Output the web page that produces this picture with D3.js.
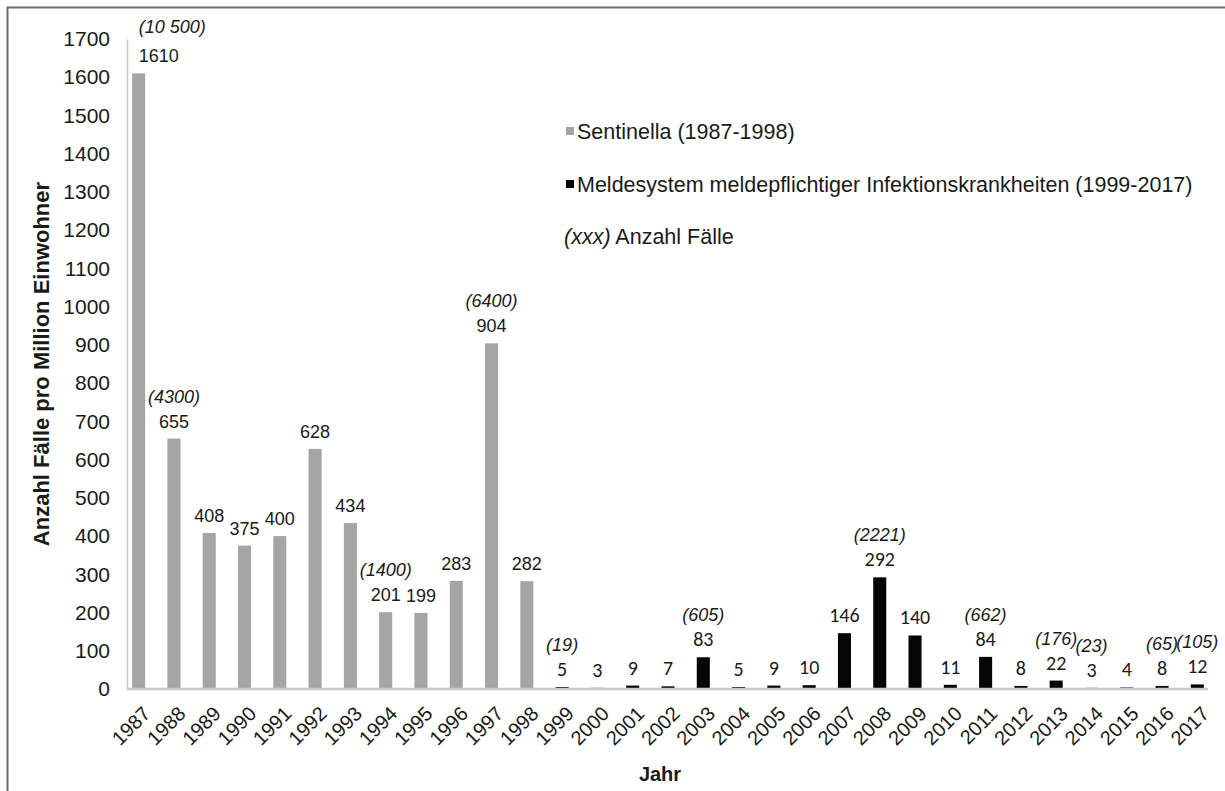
<!DOCTYPE html>
<html>
<head>
<meta charset="utf-8">
<script src="https://cdn.jsdelivr.net/npm/d3@7"></script>
<style>
  body { margin: 0; background: #fff; }
  svg text { font-family: "Liberation Sans", Arial, sans-serif; fill: #1a1a1a; }
</style>
</head>
<body>
<svg id="chart" width="1225" height="791"></svg>
<script>
const years = ['1987', '1988', '1989', '1990', '1991', '1992', '1993', '1994', '1995', '1996',
  '1997', '1998', '1999', '2000', '2001', '2002', '2003', '2004', '2005', '2006', '2007',
  '2008', '2009', '2010', '2011', '2012', '2013', '2014', '2015', '2016', '2017']

const sentinellaYears = ['1987', '1988', '1989', '1990', '1991', '1992', '1993', '1994', '1995', '1996', '1997', '1998']
const sentinellaValues = [1610, 655, 408, 375, 400, 628, 434, 201, 199, 283, 904, 282]

const meldeYears = ['1999', '2000', '2001', '2002', '2003', '2004', '2005', '2006', '2007', '2008',
  '2009', '2010', '2011', '2012', '2013', '2014', '2015', '2016', '2017']
const meldeValues = [5, 3, 9, 7, 83, 5, 9, 10, 146, 292, 140, 11, 84, 8, 22, 3, 4, 8, 12]

const caseYears = ['1987', '1988', '1994', '1997', '1999', '2003', '2008', '2011', '2013', '2014', '2016', '2017']
const caseLabels = ['(10 500)', '(4300)', '(1400)', '(6400)', '(19)', '(605)', '(2221)', '(662)', '(176)', '(23)', '(65)', '(105)']

const yTicks = [0, 100, 200, 300, 400, 500, 600, 700, 800, 900, 1000, 1100, 1200, 1300, 1400, 1500, 1600, 1700]

const legendItems = ['Sentinella (1987-1998)', 'Meldesystem meldepflichtiger Infektionskrankheiten (1999-2017)']

let rows = sentinellaYears.map((yr, i) => ({ year: yr, value: sentinellaValues[i], series: 0 }))
  .concat(meldeYears.map((yr, i) => ({ year: yr, value: meldeValues[i], series: 1 })))
let valueByYear = new Map(rows.map(d => [d.year, d.value]))

const colors = ['#a5a5a5', '#050505']
const labelFonts = ['"Liberation Sans", Arial, sans-serif', 'Carlito, Lato, sans-serif']
const labelSizes = ['18px', '20px']

let svg = d3.select('#chart')

// frame
svg.append('path')
  .attr('d', 'M7.5,791 V7.5 H1225')
  .attr('fill', 'none')
  .attr('stroke', '#6e6e6e')
  .attr('stroke-width', 2)

let x = d3.scaleBand()
  .domain(years)
  .range([121, 1215])
  .paddingInner(0.63)
  .paddingOuter(0.315)

let y = d3.scaleLinear().domain([0, 1700]).range([689, 39])

let cx = yr => x(yr) + x.bandwidth() / 2
let labelY = v => y(v) - 11

// y axis
let yAxis = svg.append('g')
  .attr('transform', 'translate(127,0)')
  .call(d3.axisLeft(y).tickValues(yTicks).tickFormat(d3.format('d')).tickSize(0).tickSizeOuter(0).tickPadding(17))
yAxis.select('.domain').attr('stroke', '#c8c8c8').attr('stroke-width', 1.5)
yAxis.selectAll('text')
  .style('font-family', '"Liberation Sans", Arial, sans-serif')
  .style('font-size', '21px')
  .attr('fill', '#1a1a1a')

// x axis labels
let xAxis = svg.append('g')
  .attr('transform', 'translate(0,689)')
  .call(d3.axisBottom(x).tickSize(0))
xAxis.select('.domain').remove()
xAxis.selectAll('text')
  .style('font-family', '"Liberation Sans", Arial, sans-serif')
  .style('font-size', '20px')
  .attr('fill', '#1a1a1a')
  .attr('text-anchor', 'end')
  .attr('x', 0).attr('y', 0).attr('dy', null)
  .attr('transform', 'translate(13,26) rotate(-45)')

// bars
svg.append('g')
  .selectAll('rect')
  .data(rows)
  .join('rect')
  .attr('x', d => x(d.year))
  .attr('width', x.bandwidth())
  .attr('y', d => y(d.value))
  .attr('height', d => y(0) - y(d.value))
  .attr('fill', d => colors[d.series])

// baseline
svg.append('line')
  .attr('x1', 127).attr('x2', x(years[years.length - 1]) + x.bandwidth() + 4)
  .attr('y1', y(0)).attr('y2', y(0))
  .attr('stroke', '#c8c8c8')
  .attr('stroke-width', 2.5)

// value labels
svg.append('g')
  .selectAll('text')
  .data(rows)
  .join('text')
  .attr('x', d => cx(d.year))
  .attr('y', d => labelY(d.value))
  .attr('text-anchor', d => d.year === years[0] ? 'start' : 'middle')
  .style('font-family', d => labelFonts[d.series])
  .style('font-size', d => labelSizes[d.series])
  .text(d => d.value)

// case count labels (the first one sits a bit higher, as in the source)
svg.append('g')
  .selectAll('text')
  .data(caseYears.map((yr, i) => ({ year: yr, label: caseLabels[i] })))
  .join('text')
  .attr('x', d => cx(d.year))
  .attr('y', d => labelY(valueByYear.get(d.year)) - (d.year === years[0] ? 29 : 25))
  .attr('text-anchor', d => d.year === years[0] ? 'start' : 'middle')
  .style('font-size', '18px')
  .style('font-style', 'italic')
  .attr('fill', '#333')
  .text(d => d.label)

// axis titles
svg.append('text')
  .attr('transform', 'translate(49,364) rotate(-90)')
  .attr('text-anchor', 'middle')
  .style('font-size', '22px')
  .style('font-weight', 'bold')
  .text('Anzahl Fälle pro Million Einwohner')

svg.append('text')
  .attr('x', 660).attr('y', 781)
  .attr('text-anchor', 'middle')
  .style('font-size', '20px')
  .style('font-weight', 'bold')
  .text('Jahr')

// legend
let legend = svg.append('g').attr('transform', 'translate(566,0)')
legendItems.forEach((name, i) => {
  let ly = [131, 184][i]
  legend.append('rect')
    .attr('x', 0).attr('y', ly - 4)
    .attr('width', 8).attr('height', 8)
    .attr('fill', colors[i])
  legend.append('text')
    .attr('x', 11).attr('y', ly + 8)
    .style('font-size', '21.5px')
    .text(name)
})
let note = legend.append('text').attr('x', -2).attr('y', 244).style('font-size', '21.5px')
note.append('tspan').style('font-style', 'italic').text('(xxx)')
note.append('tspan').text(' Anzahl Fälle')
</script>
</body>
</html>
